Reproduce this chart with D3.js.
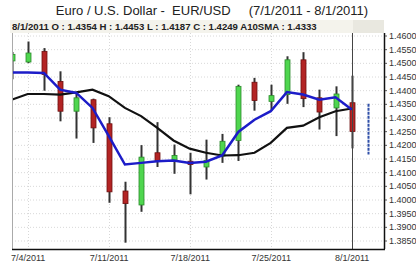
<!DOCTYPE html>
<html>
<head>
<meta charset="utf-8">
<script src="https://cdn.jsdelivr.net/npm/d3@7"></script>
<style>
  body { margin: 0; background: #fff; }
  svg { display: block; font-family: "Liberation Sans", Arial, sans-serif; }
</style>
</head>
<body>
<svg id="chart" width="416" height="264"></svg>
<script>
// trading days, 7/1/2011 .. 8/1/2011 (+ 8/2 projection slot)
var days = ["7/1","7/4","7/5","7/6","7/7","7/8","7/11","7/12","7/13","7/14","7/15",
            "7/18","7/19","7/20","7/21","7/22","7/25","7/26","7/27","7/28","7/29","8/1"];
var opens  = [1.4507,1.4503,1.4542,1.4432,1.4323,1.4365,1.4277,1.4031,1.3980,1.4171,1.4144,
              1.4140,1.4119,1.4159,1.4216,1.4429,1.4359,1.4384,1.4511,1.4372,1.4335,1.4354];
var highs  = [1.4540,1.4578,1.4554,1.4469,1.4390,1.4369,1.4301,1.4065,1.4199,1.4283,1.4201,
              1.4171,1.4219,1.4240,1.4420,1.4445,1.4420,1.4524,1.4539,1.4402,1.4414,1.4453];
var lows   = [1.4440,1.4499,1.4398,1.4286,1.4223,1.4207,1.3988,1.3842,1.3955,1.4119,1.4094,
              1.4019,1.4073,1.4134,1.4141,1.4325,1.4325,1.4350,1.4338,1.4256,1.4232,1.4187];
var closes = [1.4531,1.4536,1.4457,1.4323,1.4372,1.4262,1.4028,1.3985,1.4155,1.4143,1.4161,
              1.4128,1.4143,1.4213,1.4414,1.4362,1.4380,1.4511,1.4369,1.4320,1.4386,1.4249];
// blue (short) average and black A10SMA
var blueAvg  = [1.4465,1.4465,1.4463,1.4402,1.4390,1.4335,1.4233,1.4128,1.4134,1.4140,1.4143,
                1.4134,1.4138,1.4161,1.4247,1.4292,1.4323,1.4393,1.4384,1.4365,1.4374,1.4329];
var sma10    = [1.4365,1.4386,1.4386,1.4384,1.4392,1.4402,1.4378,1.4335,1.4305,1.4262,1.4216,
                1.4186,1.4171,1.4161,1.4162,1.4171,1.4207,1.4262,1.4270,1.4301,1.4323,1.4333];
// next-day range marker (dashed blue)
var projRange = [1.4165, 1.4350];
var yTicks = [1.385,1.39,1.395,1.40,1.405,1.41,1.415,1.42,1.425,1.43,1.435,1.44,1.445,1.45,1.455,1.46];
var xTickIdx = [1, 6, 11, 16, 21];
var xTickLabels = ["7/4/2011","7/11/2011","7/18/2011","7/25/2011","8/1/2011"];

var svg = d3.select("#chart");
var L = 12, R = 384, T = 33, B = 249;

var x = d3.scaleLinear().domain([0, 22]).range([11.5, 11.5 + 22 * 16.2]);
var y = d3.scaleLinear().domain([1.385, 1.46]).range([240.5, 35.5]);

svg.append("defs").append("clipPath").attr("id", "plotclip")
  .append("rect").attr("x", L).attr("y", T).attr("width", R - L).attr("height", B - T);

// title
svg.append("text").attr("x", 212).attr("y", 15).attr("text-anchor", "middle")
  .attr("font-size", 13).attr("fill", "#222").style("white-space", "pre")
  .text("Euro / U.S. Dollar -  EUR/USD     (7/1/2011 - 8/1/2011)");

// grid
var grid = svg.append("g").attr("clip-path", "url(#plotclip)");
grid.selectAll("line.h").data(yTicks).enter().append("line")
  .attr("x1", L).attr("x2", R).attr("y1", d => y(d) + 0.5).attr("y2", d => y(d) + 0.5)
  .attr("stroke", "#d8d8d8").attr("stroke-dasharray", "1,2");
grid.selectAll("line.v").data(xTickIdx).enter().append("line")
  .attr("x1", d => Math.round(x(d)) + 0.5).attr("x2", d => Math.round(x(d)) + 0.5)
  .attr("y1", T).attr("y2", B)
  .attr("stroke", "#d8d8d8").attr("stroke-dasharray", "1,2");

// info box
svg.append("rect").attr("x", 10).attr("y", 20).attr("width", 343).attr("height", 13).attr("fill", "#f4f3ec");
svg.append("rect").attr("x", 353).attr("y", 20).attr("width", 31).attr("height", 13).attr("fill", "#e9e8e0");
svg.append("text").attr("x", 12).attr("y", 30).attr("font-size", 9.6).attr("font-weight", "bold")
  .attr("fill", "#222")
  .text("8/1/2011 O : " + opens[21].toFixed(4) + " H : " + highs[21].toFixed(4) +
        " L : " + lows[21].toFixed(4) + " C : " + closes[21].toFixed(4) +
        " A10SMA : " + sma10[21].toFixed(4));

// candles
var plot = svg.append("g").attr("clip-path", "url(#plotclip)");
var candles = plot.selectAll("g.c").data(days).enter().append("g");
candles.append("line")
  .attr("x1", (d, i) => Math.round(x(i)) + 0.5).attr("x2", (d, i) => Math.round(x(i)) + 0.5)
  .attr("y1", (d, i) => y(highs[i])).attr("y2", (d, i) => y(lows[i]))
  .attr("stroke", "#333").attr("stroke-width", 2);
candles.append("rect")
  .attr("x", (d, i) => Math.round(x(i)) - 2)
  .attr("width", 5)
  .attr("y", (d, i) => y(Math.max(opens[i], closes[i])))
  .attr("height", (d, i) => Math.max(2, Math.abs(y(opens[i]) - y(closes[i]))))
  .attr("fill", (d, i) => closes[i] >= opens[i] ? "#4fd64f" : "#b32424")
  .attr("stroke", (d, i) => closes[i] >= opens[i] ? "#2b8a2b" : "#6e1010")
  .attr("stroke-width", 0.8);

// averages
var line = (arr) => d3.line().x((d, i) => x(i)).y(d => y(d))(arr);
plot.append("path").attr("d", line(sma10)).attr("fill", "none")
  .attr("stroke", "#111").attr("stroke-width", 2.2);
plot.append("path").attr("d", line(blueAvg)).attr("fill", "none")
  .attr("stroke", "#1c1cc8").attr("stroke-width", 2.5);

// projection marker
plot.append("line").attr("x1", Math.round(x(22)) + 0.5).attr("x2", Math.round(x(22)) + 0.5)
  .attr("y1", y(projRange[1])).attr("y2", y(projRange[0]))
  .attr("stroke", "#2f4fa8").attr("stroke-width", 2).attr("stroke-dasharray", "3,1");

// cursor line
svg.append("line").attr("x1", Math.round(x(21)) + 0.5).attr("x2", Math.round(x(21)) + 0.5)
  .attr("y1", T).attr("y2", B).attr("stroke", "#444").attr("stroke-width", 1);

// frame
svg.append("line").attr("x1", L + 0.5).attr("x2", L + 0.5).attr("y1", T).attr("y2", B)
  .attr("stroke", "#aaa");
svg.append("line").attr("x1", L).attr("x2", R + 1).attr("y1", B + 0.5).attr("y2", B + 0.5)
  .attr("stroke", "#111").attr("stroke-width", 1.5);
svg.append("line").attr("x1", R + 0.5).attr("x2", R + 0.5).attr("y1", T).attr("y2", B)
  .attr("stroke", "#111").attr("stroke-width", 1.5);

// axes
var yAxis = d3.axisRight(y).tickValues(yTicks).tickFormat(d3.format(".4f")).tickSize(2).tickPadding(2);
var ya = svg.append("g").attr("transform", "translate(" + (R + 1) + ",0)").call(yAxis);
ya.select(".domain").remove();
ya.selectAll("text").attr("font-size", 9).attr("fill", "#333").attr("font-family", "Liberation Sans, Arial, sans-serif");
ya.selectAll("line").attr("stroke", "#555");

var xAxis = d3.axisBottom(x).tickValues(xTickIdx).tickFormat((d, i) => xTickLabels[i]).tickSize(0).tickPadding(6);
var xa = svg.append("g").attr("transform", "translate(0," + B + ")").call(xAxis);
xa.select(".domain").remove();
xa.selectAll("text").attr("font-size", 9).attr("fill", "#333").attr("font-family", "Liberation Sans, Arial, sans-serif");
</script>
</body>
</html>
